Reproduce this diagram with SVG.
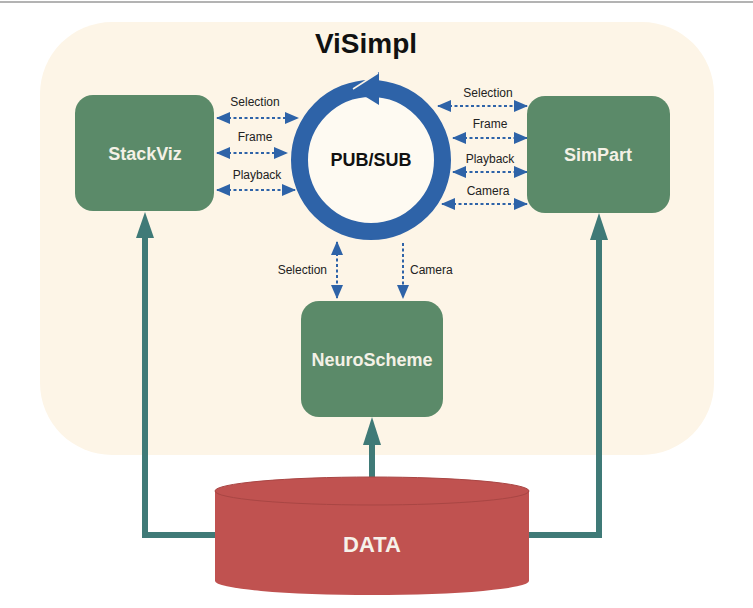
<svg xmlns="http://www.w3.org/2000/svg" width="753" height="608" viewBox="0 0 753 608">
<style>
.node{fill:#5b8a69}
.nlabel{font-family:"Liberation Sans",Arial,sans-serif;font-weight:bold;font-size:18px;fill:#f4f1e6;text-anchor:middle}
.lbl{font-family:"Liberation Sans",Arial,sans-serif;font-size:12px;fill:#222;text-anchor:middle}
.dash{stroke:#2e63a8;stroke-width:2;stroke-dasharray:3 2.5;fill:none}
.teal{stroke:#3f7a77;stroke-width:6;fill:none}
</style>
<defs>
<marker id="bh" viewBox="0 0 14 12" refX="13" refY="6" markerWidth="14" markerHeight="12" markerUnits="userSpaceOnUse" orient="auto-start-reverse">
<path d="M0,0 L14,6 L0,12 Z" fill="#2e63a8"/>
</marker>
</defs>
<rect width="753" height="608" fill="#ffffff"/>
<line x1="0" y1="2" x2="753" y2="2" stroke="#9a9a9a" stroke-width="1.5"/>
<rect x="40" y="22" width="674" height="433" rx="72" fill="#fdf5e7"/>
<text x="366" y="53" font-family="'Liberation Sans',Arial,sans-serif" font-weight="bold" font-size="28" fill="#111" text-anchor="middle">ViSimpl</text>

<g id="connectors">
<path class="teal" d="M215,535 H145 V238"/>
<path d="M136,238 L145,212 L154,238 Z" fill="#3f7a77"/>
<path class="teal" d="M529,535 H599 V240"/>
<path d="M590,240 L599,213 L608,240 Z" fill="#3f7a77"/>
<path class="teal" d="M372,477 V444"/>
<path d="M363,445 L372,417 L381,445 Z" fill="#3f7a77"/>

<line class="dash" x1="217" y1="118" x2="298" y2="118" marker-start="url(#bh)" marker-end="url(#bh)"/>
<line class="dash" x1="217" y1="153" x2="287" y2="153" marker-start="url(#bh)" marker-end="url(#bh)"/>
<line class="dash" x1="217" y1="190" x2="295" y2="190" marker-start="url(#bh)" marker-end="url(#bh)"/>
<line class="dash" x1="438" y1="106" x2="527" y2="106" marker-start="url(#bh)" marker-end="url(#bh)"/>
<line class="dash" x1="453" y1="138" x2="527" y2="138" marker-start="url(#bh)" marker-end="url(#bh)"/>
<line class="dash" x1="453" y1="172" x2="527" y2="172" marker-start="url(#bh)" marker-end="url(#bh)"/>
<line class="dash" x1="442" y1="204" x2="527" y2="204" marker-start="url(#bh)" marker-end="url(#bh)"/>
<line class="dash" x1="337" y1="242" x2="337" y2="298" marker-start="url(#bh)" marker-end="url(#bh)"/>
<line class="dash" x1="403" y1="243" x2="403" y2="298" marker-end="url(#bh)"/>

<text class="lbl" x="255" y="106">Selection</text>
<text class="lbl" x="255" y="141">Frame</text>
<text class="lbl" x="257" y="179">Playback</text>
<text class="lbl" x="488" y="97">Selection</text>
<text class="lbl" x="490" y="128">Frame</text>
<text class="lbl" x="490" y="163">Playback</text>
<text class="lbl" x="488" y="195">Camera</text>
<text class="lbl" x="327" y="274" style="text-anchor:end">Selection</text>
<text class="lbl" x="410" y="274" style="text-anchor:start">Camera</text>
</g>

<g id="pubsub">
<circle cx="371" cy="160" r="71.5" fill="#fefaf2" stroke="#2e63a8" stroke-width="17"/>
<path d="M353,89 L379,72 L379,105 Z" fill="#2e63a8"/>
<line x1="353" y1="89" x2="378" y2="73" stroke="#fdf5e7" stroke-width="1.5"/>
<text x="371" y="166" font-family="'Liberation Sans',Arial,sans-serif" font-weight="bold" font-size="18" fill="#111" text-anchor="middle">PUB/SUB</text>
</g>

<g id="stackviz">
<rect class="node" x="75" y="95" width="139" height="116" rx="18"/>
<text class="nlabel" x="145" y="160">StackViz</text>
</g>
<g id="simpart">
<rect class="node" x="527" y="96" width="143" height="117" rx="18"/>
<text class="nlabel" x="598" y="161">SimPart</text>
</g>
<g id="neuroscheme">
<rect class="node" x="301" y="301" width="142" height="116" rx="18"/>
<text class="nlabel" x="372" y="366">NeuroScheme</text>
</g>
<g id="data">
<path d="M215,491 V581 A157,14 0 0 0 529,581 V491 Z" fill="#c05250"/>
<ellipse cx="372" cy="491" rx="157" ry="14" fill="#c05250" stroke="#a94644" stroke-width="1"/>
<text x="372" y="552" font-family="'Liberation Sans',Arial,sans-serif" font-weight="bold" font-size="22" fill="#f6f1ea" text-anchor="middle">DATA</text>
</g>
</svg>
